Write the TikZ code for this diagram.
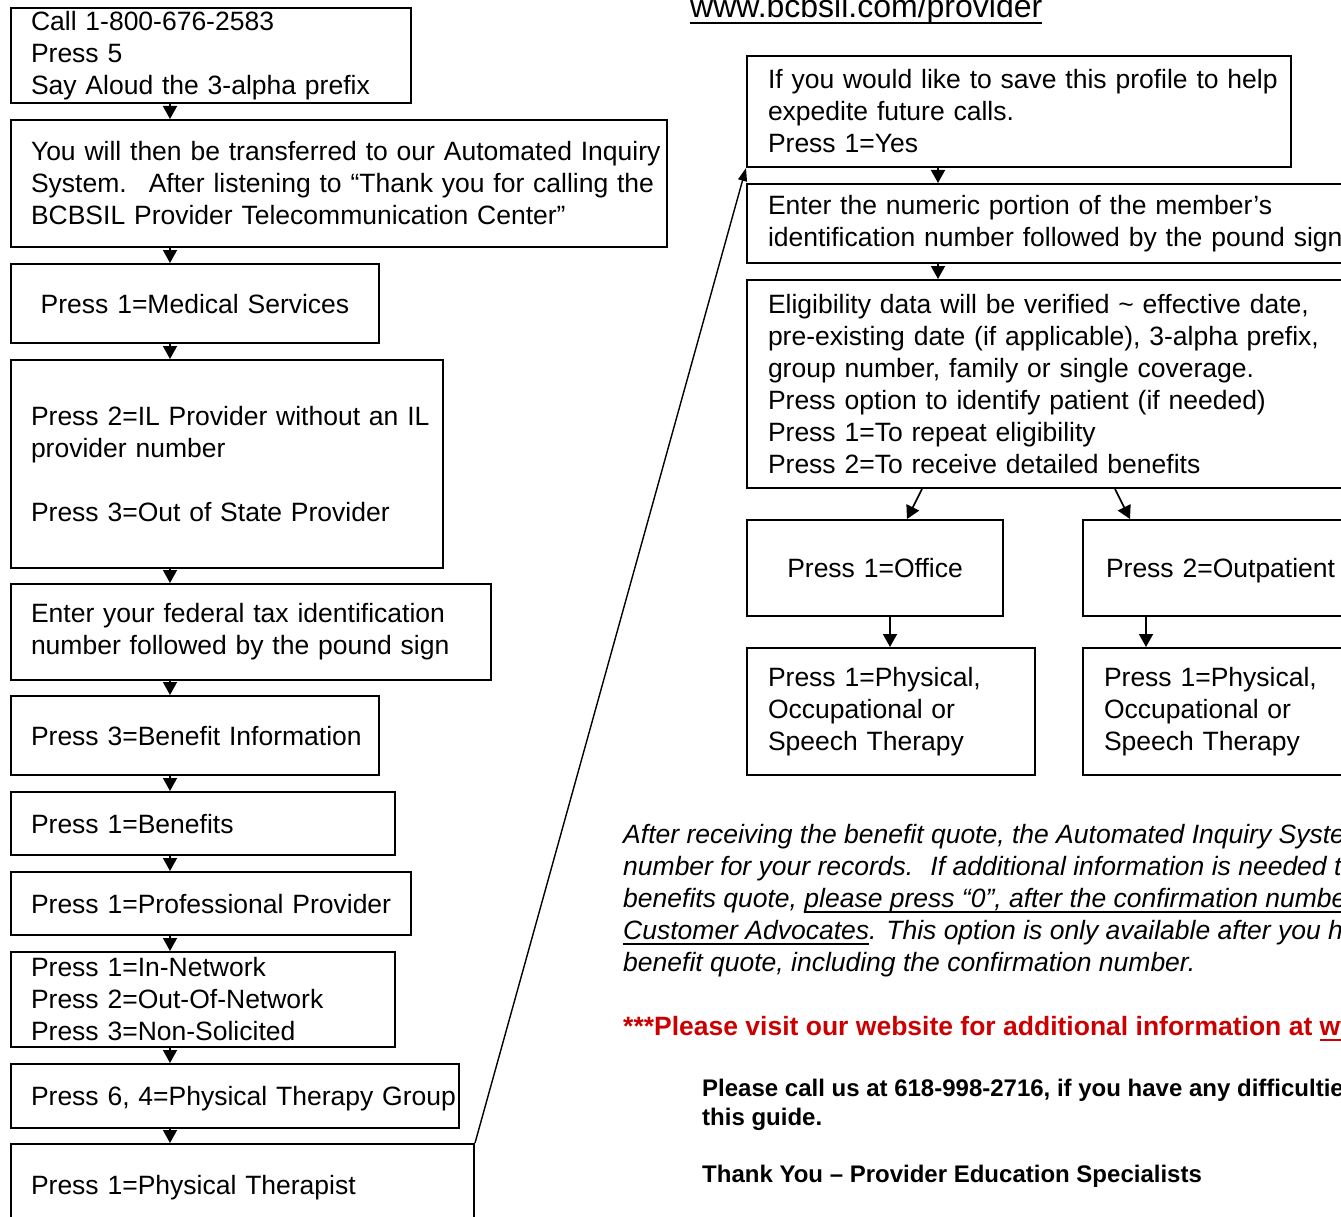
\documentclass[tikz,border=0pt]{standalone}
\usepackage{fontspec}
\setmainfont{Liberation Sans}
\usepackage{xcolor}
\usetikzlibrary{arrows.meta,positioning}
\definecolor{webred}{RGB}{204,0,0}
\newcommand\boxfont{\fontsize{26.5pt}{32pt}\selectfont}
\newcommand\boldfont{\fontsize{24pt}{29pt}\selectfont\bfseries}
\newcommand\lined[1]{\leavevmode\setbox0\hbox{#1}\rlap{\rule[-6pt]{\wd0}{2pt}}\box0}
\tikzset{
     stepbox/.style={draw, line width=2pt, anchor=north west, align=left,
                     inner xsep=20pt, inner ysep=0pt, font=\boxfont},
     onebox/.style={stepbox, text depth=0pt},
     midbox/.style={onebox, align=center},
     flowarrow/.style={black, line width=1.6pt, -{Triangle[length=13pt,width=14pt]}},
     linkarrow/.style={black, line width=1.4pt, -{Triangle[length=13pt,width=9pt]}},
     notetext/.style={anchor=base west, align=left, inner sep=0pt, font=\boxfont},
    }

\begin{document}
\begin{tikzpicture}[x=1pt,y=-1pt]
        \useasboundingbox (0,0) rectangle (1341,1217);
        \clip (0,0) rectangle (1341,1217);

        % left column
        \node [stepbox, text width=360pt, minimum height=95pt] (call) at (10,7)
            {Call 1-800-676-2583\\Press 5\\Say Aloud the 3-alpha prefix};
        \node [stepbox, text width=616pt, minimum height=127pt] (transfer) at (10,119)
            {\mbox{You will then be transferred to our Automated Inquiry}\\\mbox{System.~ After listening to “Thank you for calling the}\\\mbox{BCBSIL Provider Telecommunication Center”}};
        \node [midbox, text width=328pt, minimum height=79pt] (medical) at (10,263)
            {Press 1=Medical Services};
        \node [stepbox, text width=392pt, minimum height=208pt] (ilprov) at (10,359)
            {\mbox{Press 2=IL Provider without an IL}\\provider number\\[32pt]Press 3=Out of State Provider};
        \node [stepbox, text width=440pt, minimum height=96pt] (taxid) at (10,583)
            {Enter your federal tax identification\\number followed by the pound sign};
        \node [onebox, text width=328pt, minimum height=79pt] (benefitinfo) at (10,695)
            {\mbox{Press 3=Benefit Information}};
        \node [onebox, text width=344pt, minimum height=63pt] (benefits) at (10,791)
            {Press 1=Benefits};
        \node [midbox, text width=360pt, minimum height=63pt] (profprov) at (10,871)
            {\mbox{Press 1=Professional Provider}};
        \node [stepbox, text width=344pt, minimum height=95pt] (network) at (10,951)
            {Press 1=In-Network\\Press 2=Out-Of-Network\\Press 3=Non-Solicited};
        \node [onebox, text width=408pt, minimum height=64pt] (ptgroup) at (10,1063)
            {\mbox{Press 6, 4=Physical Therapy Group}};
        \node [onebox, text width=423pt, minimum height=82pt] (therapist) at (10,1143)
            {Press 1=Physical Therapist};

        % right column
        \node [notetext, font=\fontsize{32pt}{38pt}\selectfont] (url) at (690,18) {\lined{www.bcbsil.com/provider}};
        \node [stepbox, inner xsep=21pt, text width=502pt, minimum height=111pt] (profile) at (746,55)
            {\mbox{If you would like to save this profile to help}\\expedite future calls.\\Press 1=Yes};
        \node [stepbox, inner xsep=21pt, text width=580pt, minimum height=79pt] (numeric) at (746,183)
            {Enter the numeric portion of the member’s\\identification number followed by the pound sign};
        \node [stepbox, inner xsep=21pt, text width=580pt, minimum height=208pt] (elig) at (746,279)
            {Eligibility data will be verified \textasciitilde{} effective date,\\pre-existing date (if applicable), 3-alpha prefix,\\group number, family or single coverage.\\Press option to identify patient (if needed)\\Press 1=To repeat eligibility\\Press 2=To receive detailed benefits};
        \node [midbox, text width=216pt, minimum height=96pt] (office) at (746,519)
            {Press 1=Office};
        \node [onebox, inner xsep=23pt, text width=260pt, minimum height=96pt] (outpat) at (1082,519)
            {Press 2=Outpatient};
        \node [stepbox, inner xsep=21pt, text width=246pt, minimum height=127pt] (physoffice) at (746,647)
            {Press 1=Physical,\\Occupational or\\Speech Therapy};
        \node [stepbox, inner xsep=21pt, text width=260pt, minimum height=127pt] (physout) at (1082,647)
            {Press 1=Physical,\\Occupational or\\Speech Therapy};

        % notes (base = baseline of the last line)
        \node [notetext, font=\boxfont\itshape] (quote) at (623,971)
            {After receiving the benefit quote, the Automated Inquiry System\\
             number for your records.~ If additional information is needed to\\
             benefits quote, \lined{please press “0”, after the confirmation number}\\
             \lined{Customer Advocates}. This option is only available after you have\\
             benefit quote, including the confirmation number.};
        \node [notetext, font=\boxfont\bfseries, text=webred] (visit) at (623,1035)
            {***Please visit our website for additional information at \lined{www.bcbsil.com/provider}};
        \node [notetext, font=\boldfont] (callus) at (702,1125)
            {Please call us at 618-998-2716, if you have any difficulties using\\this guide.};
        \node [notetext, font=\boldfont] (thanks) at (702,1182)
            {Thank You – Provider Education Specialists};

        \path[flowarrow]
        ([xshift=160pt]call.south west) edge ([xshift=160pt]transfer.north west)
        ([xshift=160pt]transfer.south west) edge ([xshift=160pt]medical.north west)
        ([xshift=160pt]medical.south west) edge ([xshift=160pt]ilprov.north west)
        ([xshift=160pt]ilprov.south west) edge ([xshift=160pt]taxid.north west)
        ([xshift=160pt]taxid.south west) edge ([xshift=160pt]benefitinfo.north west)
        ([xshift=160pt]benefitinfo.south west) edge ([xshift=160pt]benefits.north west)
        ([xshift=160pt]benefits.south west) edge ([xshift=160pt]profprov.north west)
        ([xshift=160pt]profprov.south west) edge ([xshift=160pt]network.north west)
        ([xshift=160pt]network.south west) edge ([xshift=160pt]ptgroup.north west)
        ([xshift=160pt]ptgroup.south west) edge ([xshift=160pt]therapist.north west)

        ([xshift=192pt]profile.south west) edge ([xshift=192pt]numeric.north west)
        ([xshift=192pt]numeric.south west) edge ([xshift=192pt]elig.north west)
        ([xshift=176pt]elig.south west) edge ([xshift=161pt]office.north west)
        ([xshift=369pt]elig.south west) edge ([xshift=48pt]outpat.north west)
        ([xshift=144pt]office.south west) edge ([xshift=144pt]physoffice.north west)
        ([xshift=64pt]outpat.south west) edge ([xshift=64pt]physout.north west);

        \draw[linkarrow] (therapist.north east) -- (profile.south west);
    \end{tikzpicture}
\end{document}
